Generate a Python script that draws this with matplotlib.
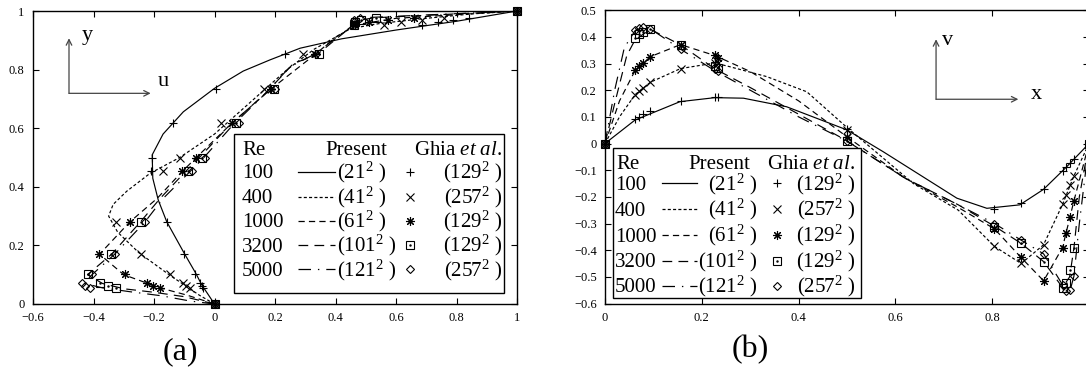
import matplotlib
matplotlib.use("Agg")
import matplotlib.pyplot as plt
from matplotlib.patches import Rectangle

plt.rcParams['font.family'] = 'serif'
plt.rcParams['font.serif'] = ['Liberation Serif', 'DejaVu Serif']
plt.rcParams['mathtext.fontset'] = 'custom'
plt.rcParams['mathtext.rm'] = 'Liberation Serif'
plt.rcParams['mathtext.it'] = 'Liberation Serif:italic'
plt.rcParams['lines.scale_dashes'] = False

# legend table
reynolds = ['100', '400', '1000', '3200', '5000']
present_grid = ['21', '41', '61', '101', '121']
ghia_grid = ['129', '257', '129', '129', '257']

# Ghia et al. -- u along the vertical centreline
ghia_y = [1.0, 0.9766, 0.9688, 0.9609, 0.9531, 0.8516, 0.7344, 0.6172, 0.5,
          0.4531, 0.2813, 0.1719, 0.1016, 0.0703, 0.0625, 0.0547, 0.0]
ghia_u_100 = [1.0, 0.84123, 0.78871, 0.73722, 0.68717, 0.23151, 0.00332, -0.13641, -0.20581,
              -0.2109, -0.15662, -0.1015, -0.06434, -0.04775, -0.04192, -0.03717, 0.0]
ghia_u_400 = [1.0, 0.75837, 0.68439, 0.61756, 0.55892, 0.29093, 0.16256, 0.02135, -0.11477,
              -0.17119, -0.32726, -0.24299, -0.14612, -0.10338, -0.09266, -0.08186, 0.0]
ghia_u_1000 = [1.0, 0.65928, 0.57492, 0.51117, 0.46604, 0.33304, 0.18719, 0.05702, -0.0608,
               -0.10648, -0.27805, -0.38289, -0.2973, -0.2222, -0.20196, -0.18109, 0.0]
ghia_u_3200 = [1.0, 0.53236, 0.48296, 0.46547, 0.46101, 0.34682, 0.19791, 0.07156, -0.04272,
               -0.08664, -0.24427, -0.34323, -0.41933, -0.37827, -0.35344, -0.32407, 0.0]
ghia_u_5000 = [1.0, 0.48223, 0.4612, 0.45992, 0.46036, 0.33556, 0.20087, 0.08183, -0.03039,
               -0.07404, -0.22855, -0.3305, -0.40435, -0.43643, -0.42901, -0.41165, 0.0]

# Ghia et al. -- v along the horizontal centreline
ghia_x = [1.0, 0.9688, 0.9609, 0.9531, 0.9453, 0.9063, 0.8594, 0.8047, 0.5,
          0.2344, 0.2266, 0.1563, 0.0938, 0.0781, 0.0703, 0.0625, 0.0]
ghia_v_100 = [0.0, -0.05906, -0.07391, -0.08864, -0.10313, -0.16914, -0.22445, -0.24533, 0.05454,
              0.17527, 0.17507, 0.16077, 0.12317, 0.1089, 0.10091, 0.09233, 0.0]
ghia_v_400 = [0.0, -0.12146, -0.15663, -0.19254, -0.22847, -0.38, -0.44993, -0.38598, 0.05186,
              0.30174, 0.30203, 0.28124, 0.22965, 0.2092, 0.19713, 0.1836, 0.0]
ghia_v_1000 = [0.0, -0.21388, -0.27669, -0.33714, -0.39188, -0.5155, -0.42665, -0.31966, 0.02526,
               0.32235, 0.33075, 0.37095, 0.32627, 0.30353, 0.29012, 0.27485, 0.0]
ghia_v_3200 = [0.0, -0.39017, -0.47425, -0.52357, -0.54053, -0.44307, -0.37401, -0.31184, 0.00999,
               0.28188, 0.2903, 0.37119, 0.42768, 0.41906, 0.40917, 0.3956, 0.0]
ghia_v_5000 = [0.0, -0.49774, -0.55069, -0.55408, -0.52876, -0.41442, -0.36214, -0.30018, 0.00945,
               0.2728, 0.28066, 0.35368, 0.42951, 0.43648, 0.43329, 0.42447, 0.0]

# present results -- panel (a)
pa_u_100 = [0, -0.042, -0.062, -0.10, -0.158, -0.186, -0.204, -0.206, -0.17, -0.103, 0.0,
            0.095, 0.183, 0.283, 0.42, 0.60, 0.80, 1.0]
pa_y_100 = [0, 0.065, 0.105, 0.173, 0.281, 0.355, 0.429, 0.509, 0.58, 0.656, 0.736,
            0.795, 0.833, 0.873, 0.905, 0.935, 0.965, 1.0]
pa_u_400 = [0, -0.05, -0.10, -0.15, -0.25, -0.32, -0.35, -0.335, -0.29, -0.213, -0.115,
            0.0, 0.12, 0.24, 0.33, 0.45, 0.55, 0.70, 0.85, 1.0]
pa_y_400 = [0, 0.03, 0.065, 0.10, 0.175, 0.245, 0.30, 0.34, 0.385, 0.446, 0.50,
            0.58, 0.69, 0.80, 0.87, 0.94, 0.958, 0.975, 0.99, 1.0]
pa_u_1000 = [0, -0.09, -0.18, -0.22, -0.30, -0.38, -0.28, -0.19, -0.106, -0.06, 0.057,
             0.187, 0.333, 0.40, 0.466, 0.60, 1.0]
pa_y_1000 = [0, 0.03, 0.055, 0.07, 0.10, 0.17, 0.28, 0.36, 0.453, 0.50, 0.617,
             0.734, 0.852, 0.91, 0.953, 0.975, 1.0]
pa_u_3200 = [0, -0.10, -0.20, -0.30, -0.37, -0.42, -0.34, -0.245, -0.18, -0.095, -0.05,
             0.05, 0.17, 0.26, 0.34, 0.46, 0.48, 0.53, 1.0]
pa_y_3200 = [0, 0.025, 0.04, 0.052, 0.07, 0.10, 0.17, 0.28, 0.36, 0.453, 0.50,
             0.61, 0.72, 0.82, 0.852, 0.953, 0.969, 0.977, 1.0]
pa_u_5000 = [0, -0.08, -0.175, -0.28, -0.37, -0.43, -0.405, -0.33, -0.23, -0.17, -0.08,
             -0.035, 0.06, 0.16, 0.25, 0.33, 0.46, 0.465, 0.49, 1.0]
pa_y_5000 = [0, 0.01, 0.028, 0.042, 0.055, 0.07, 0.10, 0.17, 0.28, 0.36, 0.453,
             0.50, 0.61, 0.71, 0.81, 0.852, 0.953, 0.969, 0.977, 1.0]

# present results -- panel (b)
pb_x_100 = [0, 0.062, 0.155, 0.227, 0.286, 0.375, 0.50, 0.575, 0.727, 0.789, 0.857, 0.906, 0.954, 1.0]
pb_v_100 = [0, 0.088, 0.157, 0.172, 0.170, 0.138, 0.051, -0.031, -0.205, -0.243, -0.23, -0.172, -0.087, 0.0]
pb_x_400 = [0, 0.03, 0.0625, 0.094, 0.156, 0.227, 0.258, 0.334, 0.417, 0.50, 0.637, 0.73,
            0.8047, 0.86, 0.906, 0.945, 0.969, 1.0]
pb_v_400 = [0, 0.10, 0.184, 0.23, 0.281, 0.302, 0.288, 0.251, 0.194, 0.06, -0.15, -0.25,
            -0.386, -0.45, -0.38, -0.23, -0.121, 0.0]
pb_x_1000 = [0, 0.03, 0.0625, 0.094, 0.156, 0.227, 0.30, 0.40, 0.50, 0.62, 0.73,
             0.8047, 0.8594, 0.9063, 0.9453, 0.969, 1.0]
pb_v_1000 = [0, 0.16, 0.275, 0.326, 0.371, 0.33, 0.27, 0.16, 0.025, -0.13, -0.24,
             -0.32, -0.427, -0.515, -0.39, -0.214, 0.0]
pb_x_3200 = [0, 0.02, 0.045, 0.0625, 0.094, 0.156, 0.227, 0.30, 0.40, 0.50, 0.62, 0.73,
             0.8047, 0.8594, 0.9063, 0.9453, 0.96, 0.969, 0.98, 1.0]
pb_v_3200 = [0, 0.15, 0.33, 0.39, 0.428, 0.37, 0.28, 0.21, 0.11, 0.01, -0.13, -0.23,
             -0.31, -0.374, -0.443, -0.54, -0.50, -0.39, -0.20, 0.0]
pb_x_5000 = [0, 0.02, 0.04, 0.0625, 0.078, 0.094, 0.156, 0.227, 0.30, 0.40, 0.50, 0.62, 0.73,
             0.8047, 0.8594, 0.9063, 0.945, 0.953, 0.9609, 0.9688, 0.98, 1.0]
pb_v_5000 = [0, 0.20, 0.36, 0.424, 0.436, 0.43, 0.354, 0.273, 0.20, 0.10, 0.009, -0.13, -0.23,
             -0.30, -0.362, -0.414, -0.529, -0.554, -0.551, -0.498, -0.30, 0.0]

# tick labels (the "1" of panel (b) falls outside the picture in the original)
a_xticks = [-0.6, -0.4, -0.2, 0, 0.2, 0.4, 0.6, 0.8, 1.0]
a_xlabels = ['\u22120.6', '\u22120.4', '\u22120.2', '0', '0.2', '0.4', '0.6', '0.8', '1']
a_yticks = [0, 0.2, 0.4, 0.6, 0.8, 1.0]
a_ylabels = ['0', '0.2', '0.4', '0.6', '0.8', '1']
b_xticks = [0, 0.2, 0.4, 0.6, 0.8, 1.0]
b_xlabels = ['0', '0.2', '0.4', '0.6', '0.8', '']
b_yticks = [-0.6, -0.5, -0.4, -0.3, -0.2, -0.1, 0, 0.1, 0.2, 0.3, 0.4, 0.5]
b_ylabels = ['\u22120.6', '\u22120.5', '\u22120.4', '\u22120.3', '\u22120.2', '\u22120.1',
             '0', '0.1', '0.2', '0.3', '0.4', '0.5']

W, H = 1086, 375
dashes = [(None), (2.2, 1.6), (4.5, 3.0), (7.0, 4.5), (9.0, 5.0, 1.0, 5.0)]
markers = ['+', 'x', (8, 2, 0), 's', 'D']
msizes = [6, 5.5, 6.5, 5.2, 4.4]

fig = plt.figure(figsize=(W / 100, H / 100), dpi=100)
ax_a = fig.add_axes([33 / W, 1 - 304 / H, 484 / W, 293 / H])
ax_b = fig.add_axes([605 / W, 1 - 303.5 / H, 484 / W, 293.3 / H])


def fx(px, py):
    return px / W, 1 - py / H


def curve(ax, x, y, i):
    kw = dict(color='black', lw=0.85)
    if dashes[i] is None:
        ax.plot(x, y, '-', **kw)
    else:
        ax.plot(x, y, dashes=dashes[i], **kw)


def pts(ax, x, y, i, **extra):
    ax.plot(x, y, ls='none', marker=markers[i], ms=msizes[i], mew=0.8,
            mfc='none', mec='black', clip_on=False, **extra)
    if markers[i] == 's':
        ax.plot(x, y, ls='none', marker='.', ms=1.5, color='black', clip_on=False, **extra)


present_a = [(pa_u_100, pa_y_100), (pa_u_400, pa_y_400), (pa_u_1000, pa_y_1000),
             (pa_u_3200, pa_y_3200), (pa_u_5000, pa_y_5000)]
ghia_a = [ghia_u_100, ghia_u_400, ghia_u_1000, ghia_u_3200, ghia_u_5000]
present_b = [(pb_x_100, pb_v_100), (pb_x_400, pb_v_400), (pb_x_1000, pb_v_1000),
             (pb_x_3200, pb_v_3200), (pb_x_5000, pb_v_5000)]
ghia_b = [ghia_v_100, ghia_v_400, ghia_v_1000, ghia_v_3200, ghia_v_5000]

for i in range(5):
    curve(ax_a, present_a[i][0], present_a[i][1], i)
    pts(ax_a, ghia_a[i], ghia_y, i)
    curve(ax_b, present_b[i][0], present_b[i][1], i)
    pts(ax_b, ghia_x, ghia_b[i], i)

ax_a.set_xlim(-0.6, 1.0)
ax_a.set_ylim(0, 1.0)
ax_b.set_xlim(0, 1.0)
ax_b.set_ylim(-0.6, 0.5)
ax_a.set_xticks(a_xticks, a_xlabels)
ax_a.set_yticks(a_yticks, a_ylabels)
ax_b.set_xticks(b_xticks, b_xlabels)
ax_b.set_yticks(b_yticks, b_ylabels)
for ax in (ax_a, ax_b):
    ax.tick_params(direction='in', length=4.5, width=0.8, top=True, right=True,
                   labelsize=9, pad=6)
    for s in ax.spines.values():
        s.set_linewidth(1.0)

# coordinate arrows
arr = dict(arrowstyle='->', lw=0.9, color='#444444', shrinkA=0, shrinkB=0)
ax_a.annotate('', xy=(-0.481, 0.907), xytext=(-0.481, 0.719), arrowprops=arr)
ax_a.annotate('', xy=(-0.211, 0.719), xytext=(-0.481, 0.719), arrowprops=arr)
ax_a.text(-0.42, 0.918, 'y', fontsize=16, ha='center', va='center')
ax_a.text(-0.169, 0.761, 'u', fontsize=16, ha='center', va='center')
ax_b.annotate('', xy=(0.684, 0.391), xytext=(0.684, 0.166), arrowprops=arr)
ax_b.annotate('', xy=(0.854, 0.166), xytext=(0.684, 0.166), arrowprops=arr)
ax_b.text(0.707, 0.388, 'v', fontsize=16, ha='center', va='center')
ax_b.text(0.892, 0.182, 'x', fontsize=16, ha='center', va='center')


def table(ax, box, rows, re_x, line_x, pres_right, grid_x, grid_ha, mark_x, ghia_right, fs):
    tr = fig.transFigure
    x0, y0 = fx(box[0], box[3])
    x1, y1 = fx(box[2], box[1])
    ax.add_patch(Rectangle((x0, y0), x1 - x0, y1 - y0, transform=tr, fc='white',
                           ec='black', lw=1.0, zorder=10, clip_on=False))
    off = 6.5
    ax.text(*fx(re_x + 1, rows[0] + off), 'Re', transform=tr, fontsize=fs,
            ha='left', va='baseline', zorder=11)
    ax.text(*fx(pres_right, rows[0] + off), 'Present', transform=tr, fontsize=fs,
            ha='right', va='baseline', zorder=11)
    ax.text(*fx(ghia_right, rows[0] + off), r'Ghia $\mathit{et\ al.}$', transform=tr,
            fontsize=fs, ha='right', va='baseline', zorder=11)
    for i in range(5):
        yb = rows[i + 1] + off
        ax.text(*fx(re_x, yb), reynolds[i], transform=tr, fontsize=fs,
                ha='left', va='baseline', zorder=11)
        xa, ya = fx(line_x[0], rows[i + 1])
        xb, _ = fx(line_x[1], rows[i + 1])
        if dashes[i] is None:
            ax.plot([xa, xb], [ya, ya], '-', color='black', lw=0.9, transform=tr,
                    zorder=11, clip_on=False)
        else:
            ax.plot([xa, xb], [ya, ya], dashes=dashes[i], color='black', lw=0.9,
                    transform=tr, zorder=11, clip_on=False)
        ax.text(*fx(grid_x, yb), '(%s$^2$ )' % present_grid[i], transform=tr, fontsize=fs,
                ha=grid_ha, va='baseline', zorder=11)
        mx, my = fx(mark_x, rows[i + 1])
        pts(ax, [mx], [my], i, transform=tr, zorder=11)
        ax.text(*fx(ghia_right, yb), '(%s$^2$ )' % ghia_grid[i], transform=tr, fontsize=fs,
                ha='right', va='baseline', zorder=11)


table(ax_a, (234, 134, 504, 293), [148.3, 172, 196.5, 220.7, 245, 269.3],
      241.7, (298, 335), 387, 337, 'left', 410, 502, 15)
table(ax_b, (613.3, 148.3, 860.7, 298.3), [162.3, 183.3, 209, 235, 260.7, 286],
      615, (661.7, 696.7), 750, 757, 'right', 776.7, 855, 15)

fig.text(*fx(180, 351.7), '(a)', fontsize=23, ha='center', va='center')
fig.text(*fx(750, 350), '(b)', fontsize=23, ha='center', va='center')

fig.savefig('out.png', dpi=100)
